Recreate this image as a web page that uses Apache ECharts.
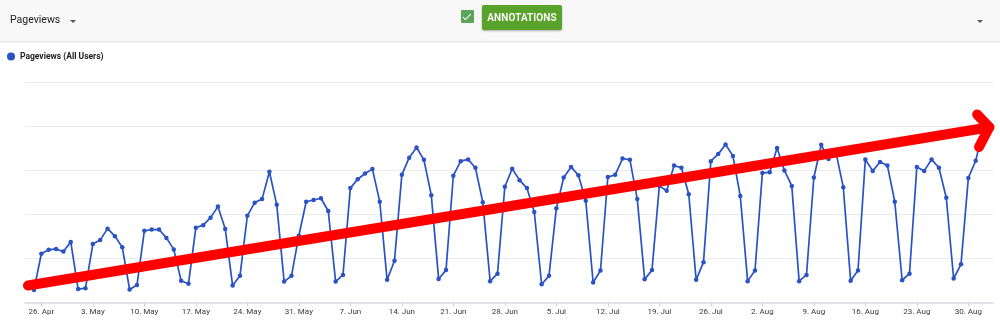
<!DOCTYPE html>
<html>
<head>
<meta charset="utf-8">
<title>Pageviews</title>
<script src="https://cdn.jsdelivr.net/npm/echarts@6/dist/echarts.min.js"></script>
<style>
  html, body { margin: 0; padding: 0; background: #fff; }
  body { width: 1000px; height: 329px; position: relative; overflow: hidden; font-family: Roboto, "Noto Sans", sans-serif; }
  #chart { position: absolute; left: 0; top: 0; width: 1000px; height: 329px; }
  .toolbar { position: absolute; left: 0; top: 0; width: 1000px; height: 41px; background: #f8f8f8;
             border-bottom: 1px solid #e4e4e4; box-shadow: 0 1px 1px rgba(0,0,0,0.04); z-index: 2; }
  .metric { position: absolute; left: 10px; top: 13px; font-size: 10.5px; color: #212121; }
  .caret { position: absolute; width: 0; height: 0; border-left: 3px solid transparent;
           border-right: 3px solid transparent; border-top: 3px solid #555; }
  .check { position: absolute; left: 461px; top: 10px; width: 13px; height: 13px; background: #5aa55a; border-radius: 1px; }
  .check:after { content: ""; position: absolute; left: 4px; top: 1.5px; width: 3px; height: 6.5px;
                 border: solid #fff; border-width: 0 1.6px 1.6px 0; transform: rotate(45deg); }
  .btn { position: absolute; left: 482px; top: 5px; width: 80px; height: 25px; background: #59a32c; border-radius: 2px;
         box-shadow: 0 1px 2px rgba(0,0,0,0.3); color: #fff; font-size: 10px; font-weight: 600;
         line-height: 25px; text-align: center; letter-spacing: 0.1px; }
</style>
</head>
<body>
<div id="chart"></div>
<div class="toolbar">
  <div class="metric">Pageviews</div>
  <div class="caret" style="left:70px;top:19.5px"></div>
  <div class="check"></div>
  <div class="btn">ANNOTATIONS</div>
  <div class="caret" style="left:977px;top:19.5px"></div>
</div>
<script>
// Daily pageviews, one value per day starting Sunday 25 Apr (index 0)
const seriesName = 'Pageviews (All Users)';
const pageviews = [
  28, 110, 119, 121, 115, 137, 30,
  32, 132, 141, 167, 150, 125, 29,
  39, 162, 165, 165, 146, 120, 49,
  42, 169, 175, 192, 217, 166, 38,
  60, 196, 226, 234, 296, 221, 47,
  60, 151, 228, 232, 236, 207, 47,
  62, 259, 279, 292, 302, 228, 51,
  94, 289, 328, 351, 323, 243, 53,
  73, 287, 320, 324, 305, 227, 48,
  65, 262, 303, 277, 259, 205, 41,
  60, 213, 283, 307, 288, 230, 45,
  72, 284, 289, 326, 323, 234, 52,
  73, 264, 253, 310, 305, 245, 51,
  91, 320, 336, 358, 332, 241, 48,
  72, 293, 295, 350, 299, 264, 48,
  62, 283, 357, 325, 340, 261, 49,
  72, 324, 298, 318, 310, 228, 50,
  65, 307, 298, 324, 305, 237, 54,
  86, 282, 321, 390
];

// Weekly tick marks (day index from 25 Apr) and their labels
const tickDays = [1, 8, 15, 22, 29, 36, 43, 50, 57, 64, 71, 78, 85, 92, 99, 106, 113, 120, 127];
const tickLabels = ['26. Apr', '3. May', '10. May', '17. May', '24. May', '31. May', '7. Jun', '14. Jun',
  '21. Jun', '28. Jun', '5. Jul', '12. Jul', '19. Jul', '26. Jul', '2. Aug', '9. Aug', '16. Aug',
  '23. Aug', '30. Aug'];

// Hand-drawn trend arrow, in [day, pageviews] coordinates
const trendShaft = [[-0.82, 38], [129.85, 397]];
const trendHead = [[128.2, 426], [129.85, 397], [128.45, 352]];

const points = pageviews.map((v, i) => [i, v]);

const chart = echarts.init(document.getElementById('chart'), null, { renderer: 'canvas' });
chart.setOption({
  animation: false,
  backgroundColor: '#fff',
  textStyle: { fontFamily: 'Roboto, "Noto Sans", sans-serif' },
  legend: {
    data: [seriesName],
    left: 7, top: 52, padding: 0,
    icon: 'circle', itemWidth: 8, itemHeight: 8,
    textStyle: { fontSize: 8.5, fontWeight: 'bold', color: '#222' }
  },
  grid: { left: 25, right: 7, top: 81.8, bottom: 26.7, containLabel: false },
  xAxis: {
    type: 'value',
    min: -1.22, max: 130.35,
    splitLine: { show: false },
    axisLine: { lineStyle: { color: '#dadde4', width: 1.5 } },
    axisTick: { customValues: tickDays, length: 4, lineStyle: { color: '#cfd2d8' } },
    axisLabel: {
      customValues: tickDays,
      formatter: v => tickLabels[tickDays.indexOf(Math.round(v))] || '',
      fontSize: 8, color: '#3a3a3a', margin: 6
    }
  },
  yAxis: {
    type: 'value', min: 0, max: 500, interval: 100,
    axisLine: { show: false }, axisTick: { show: false }, axisLabel: { show: false },
    splitLine: { lineStyle: { color: '#ebebeb', width: 1.2 } }
  },
  series: [
    {
      name: seriesName, type: 'line', data: points,
      color: '#2a52c4',
      lineStyle: { width: 1.7, color: '#2a52c4' },
      symbol: 'circle', symbolSize: 4.5,
      itemStyle: { color: '#2a52c4' },
      z: 3
    },
    {
      name: 'trend', type: 'line', data: trendShaft, symbol: 'none', silent: true,
      lineStyle: { width: 10, color: '#ff0000', cap: 'round', join: 'round' },
      z: 10
    },
    {
      name: 'trendHead', type: 'line', data: trendHead, symbol: 'none', silent: true,
      lineStyle: { width: 10, color: '#ff0000', cap: 'round', join: 'round' },
      z: 10
    }
  ]
});
</script>
</body>
</html>
